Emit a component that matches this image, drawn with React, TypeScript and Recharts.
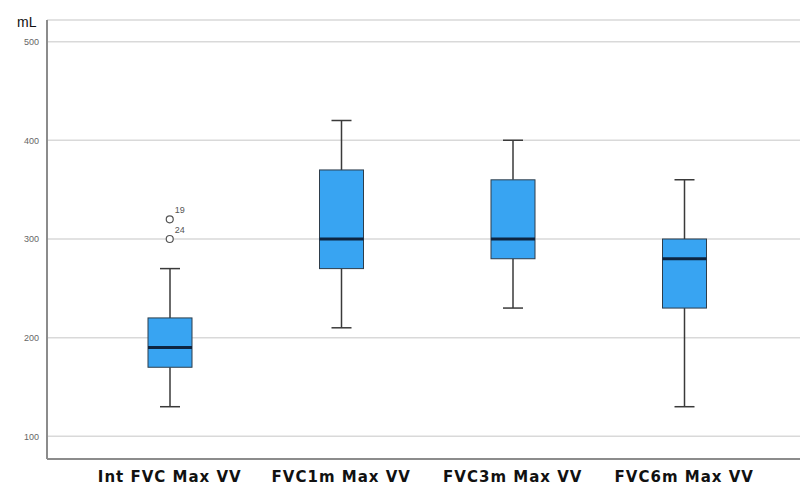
import React from 'react';
import { ComposedChart, Bar, Line, XAxis, YAxis, CartesianGrid } from 'recharts';

// Box plot statistics (mL)
const categories = ['Int FVC Max VV', 'FVC1m Max VV', 'FVC3m Max VV', 'FVC6m Max VV'];
const mins = [130, 210, 230, 130];
const q1s = [170, 270, 280, 230];
const medians = [190, 300, 300, 280];
const q3s = [220, 370, 360, 300];
const maxs = [270, 420, 400, 360];
// outliers: case 19 and case 24 for the first group only
const outlier19 = [320, null, null, null];
const outlier24 = [300, null, null, null];
const yTicks = [100, 200, 300, 400, 500];

const data = categories.map((name, i) => ({
  name,
  min: mins[i],
  q1: q1s[i],
  median: medians[i],
  q3: q3s[i],
  max: maxs[i],
  o19: outlier19[i],
  o24: outlier24[i],
}));

const BOX_FILL = '#38a4f2';

// Draws whiskers, box and median inside the [min, max] range bar
const BoxShape = (props: any) => {
  const { x, y, width, height, payload } = props;
  if (height == null || isNaN(y)) return null;
  const top = Math.min(y, y + height);
  const span = Math.abs(height);
  const range = payload.max - payload.min;
  const toY = (v: number) => top + ((payload.max - v) / range) * span;
  const cx = x + width / 2;
  const cap = 10;
  const yMax = toY(payload.max);
  const yMin = toY(payload.min);
  const yQ1 = toY(payload.q1);
  const yQ3 = toY(payload.q3);
  const yMed = toY(payload.median);
  return (
    <g>
      <line x1={cx} x2={cx} y1={yMax} y2={yQ3} stroke="#3a3a3a" strokeWidth={1.5} />
      <line x1={cx} x2={cx} y1={yQ1} y2={yMin} stroke="#3a3a3a" strokeWidth={1.5} />
      <line x1={cx - cap} x2={cx + cap} y1={yMax} y2={yMax} stroke="#3a3a3a" strokeWidth={1.5} />
      <line x1={cx - cap} x2={cx + cap} y1={yMin} y2={yMin} stroke="#3a3a3a" strokeWidth={1.5} />
      <rect x={x} y={yQ3} width={width} height={yQ1 - yQ3} fill={BOX_FILL} stroke="#2e3d4a" strokeWidth={1} />
      <line x1={x} x2={x + width} y1={yMed} y2={yMed} stroke="#0d2440" strokeWidth={3} />
    </g>
  );
};

const OutlierDot = (props: any) => {
  const { cx, cy, value, label } = props;
  if (value === null || value === undefined || isNaN(cy)) return null;
  return (
    <g>
      <circle cx={cx} cy={cy} r={3.5} fill="#fff" stroke="#555" strokeWidth={1.2} />
      <text x={cx + 5} y={cy - 6} fontSize={9} fill="#555" fontFamily="Liberation Sans, Arial, sans-serif">
        {label}
      </text>
    </g>
  );
};

const CategoryTick = (props: any) => {
  const { x, y, payload } = props;
  return (
    <text
      x={x}
      y={y + 15}
      textAnchor="middle"
      fontSize={15}
      fontWeight="bold"
      letterSpacing={1}
      fill="#111"
      fontFamily="DejaVu Sans, sans-serif"
    >
      {payload.value}
    </text>
  );
};

export default function App() {
  return (
    <div style={{ position: 'absolute', left: 0, top: 0, width: 804, height: 488, background: '#fff' }}>
      <ComposedChart width={804} height={488} data={data} margin={{ top: 20, right: 4, left: 0, bottom: 0 }}>
        <CartesianGrid vertical={false} stroke="#d9d9d9" strokeWidth={1.5} />
        <XAxis
          dataKey="name"
          height={29}
          axisLine={{ stroke: '#8c8c8c', strokeWidth: 2 }}
          tickLine={false}
          tick={<CategoryTick />}
          padding={{ left: 37, right: 30 }}
          interval={0}
        />
        <YAxis
          width={47}
          domain={[77, 522]}
          ticks={yTicks}
          allowDataOverflow
          axisLine={{ stroke: '#8c8c8c', strokeWidth: 2 }}
          tickLine={false}
          tick={{ fontSize: 9, fill: '#666', fontFamily: 'Liberation Sans, Arial, sans-serif' }}
          label={{ value: 'mL', position: 'insideTopLeft', dx: 12, dy: -8, fontSize: 14, fill: '#111', fontFamily: 'Liberation Sans, Arial, sans-serif' }}
        />
        <Bar
          dataKey={(d: any) => [d.min, d.max]}
          barSize={44}
          shape={<BoxShape />}
          isAnimationActive={false}
        />
        <Line dataKey="o19" stroke="none" dot={<OutlierDot label="19" />} activeDot={false} isAnimationActive={false} />
        <Line dataKey="o24" stroke="none" dot={<OutlierDot label="24" />} activeDot={false} isAnimationActive={false} />
      </ComposedChart>
    </div>
  );
}
